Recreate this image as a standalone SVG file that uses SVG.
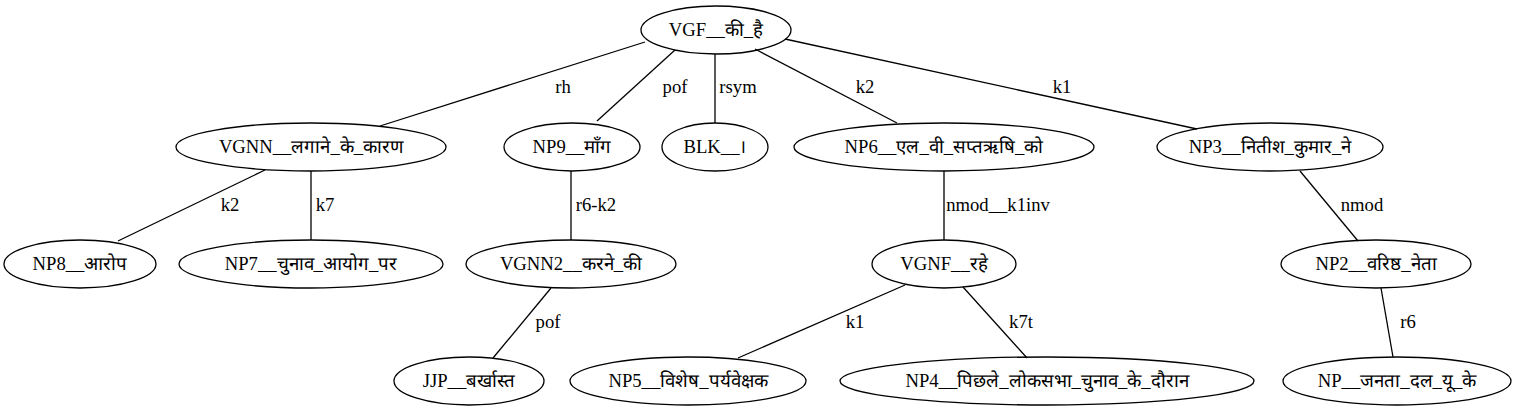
<svg xmlns="http://www.w3.org/2000/svg" width="1524" height="411" viewBox="0 0 1524 411">
<style>
ellipse{fill:none;stroke:#000;stroke-width:1.3}
line{stroke:#000;stroke-width:1.3}
text{font-family:"Liberation Serif","Times New Roman",serif;font-size:18.67px;fill:#000;text-anchor:middle}
</style>
<rect width="1524" height="411" fill="#fff"/>
<g id="connectors">
<line x1="645" y1="42" x2="380" y2="126"/>
<line x1="675" y1="50" x2="597" y2="121"/>
<line x1="715" y1="54" x2="715" y2="123"/>
<line x1="755" y1="49" x2="897" y2="123"/>
<line x1="785" y1="39" x2="1197" y2="129"/>
<line x1="265" y1="170" x2="118" y2="241"/>
<line x1="311" y1="171" x2="311" y2="240"/>
<line x1="571" y1="171" x2="571" y2="240"/>
<line x1="944" y1="171" x2="944" y2="240"/>
<line x1="1300" y1="171" x2="1358" y2="241"/>
<line x1="551" y1="288" x2="493" y2="358"/>
<line x1="905" y1="285" x2="738" y2="358"/>
<line x1="963" y1="287" x2="1027" y2="358"/>
<line x1="1381" y1="288" x2="1393" y2="357"/>
<text x="563" y="93">rh</text>
<text x="675" y="93">pof</text>
<text x="738" y="93">rsym</text>
<text x="865" y="93">k2</text>
<text x="1062" y="93">k1</text>
<text x="230" y="211">k2</text>
<text x="325" y="211">k7</text>
<text x="596" y="211">r6-k2</text>
<text x="998" y="211">nmod__k1inv</text>
<text x="1362" y="211">nmod</text>
<text x="548" y="328">pof</text>
<text x="855" y="328">k1</text>
<text x="1021" y="328">k7t</text>
<text x="1408" y="328">r6</text>
</g>
<g id="n_vgf"><ellipse cx="716" cy="30" rx="75" ry="24"/><text x="716" y="36">VGF__की_है</text></g>
<g id="n_vgnn"><ellipse cx="311" cy="147" rx="135" ry="24"/><text x="311" y="153">VGNN__लगाने_के_कारण</text></g>
<g id="n_np9"><ellipse cx="572" cy="147" rx="68" ry="24"/><text x="572" y="153">NP9__माँग</text></g>
<g id="n_blk"><ellipse cx="715" cy="147" rx="53" ry="24"/><text x="715" y="153">BLK__।</text></g>
<g id="n_np6"><ellipse cx="944" cy="147" rx="150" ry="24"/><text x="944" y="153">NP6__एल_वी_सप्तऋषि_को</text></g>
<g id="n_np3"><ellipse cx="1270" cy="147" rx="113" ry="24"/><text x="1270" y="153">NP3__नितीश_कुमार_ने</text></g>
<g id="n_np8"><ellipse cx="80" cy="264" rx="76" ry="24"/><text x="80" y="270">NP8__आरोप</text></g>
<g id="n_np7"><ellipse cx="311" cy="264" rx="132" ry="24"/><text x="311" y="270">NP7__चुनाव_आयोग_पर</text></g>
<g id="n_vgnn2"><ellipse cx="571" cy="264" rx="105" ry="24"/><text x="571" y="270">VGNN2__करने_की</text></g>
<g id="n_vgnf"><ellipse cx="944" cy="264" rx="72" ry="24"/><text x="944" y="270">VGNF__रहे</text></g>
<g id="n_np2"><ellipse cx="1376" cy="264" rx="95" ry="24"/><text x="1376" y="270">NP2__वरिष्ठ_नेता</text></g>
<g id="n_jjp"><ellipse cx="469" cy="381" rx="75" ry="24"/><text x="469" y="387">JJP__बर्खास्त</text></g>
<g id="n_np5"><ellipse cx="688" cy="381" rx="118" ry="24"/><text x="688" y="387">NP5__विशेष_पर्यवेक्षक</text></g>
<g id="n_np4"><ellipse cx="1047" cy="381" rx="207" ry="24"/><text x="1047" y="387">NP4__पिछले_लोकसभा_चुनाव_के_दौरान</text></g>
<g id="n_np"><ellipse cx="1397" cy="381" rx="114" ry="24"/><text x="1397" y="387">NP__जनता_दल_यू_के</text></g>
</svg>
